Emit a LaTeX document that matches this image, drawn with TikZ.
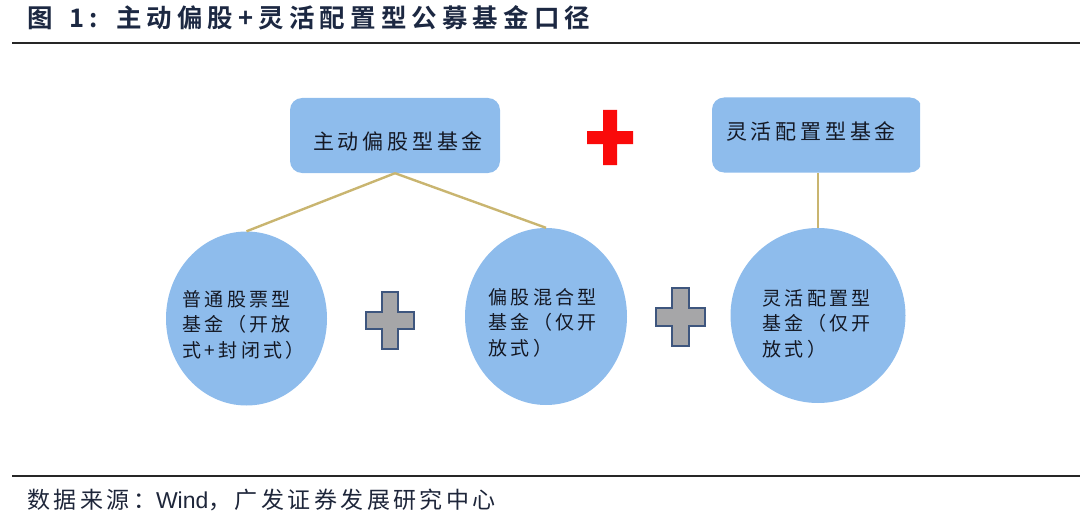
\documentclass[tikz,border=0pt]{standalone}
\usepackage{fontspec}
\usetikzlibrary{shapes.geometric}
\newfontfamily\cjk{Noto Sans CJK SC}
\newfontfamily\cjkls[LetterSpace=18]{Noto Sans CJK SC}
\newfontfamily\cjkft[LetterSpace=15]{Noto Sans CJK SC}
\newfontfamily\cjkt[LetterSpace=20]{Noto Sans CJK SC Bold}
\newfontfamily\latinft{Liberation Sans}
\definecolor{boxblue}{RGB}{142,188,236}
\definecolor{tanline}{RGB}{201,181,112}
\definecolor{titlenavy}{RGB}{28,40,66}
\definecolor{crossgrey}{RGB}{166,166,168}
\definecolor{crossedge}{RGB}{62,86,126}
\definecolor{crossred}{RGB}{250,10,10}
\definecolor{txt}{RGB}{20,24,36}
\definecolor{foottxt}{RGB}{30,38,58}
\newcommand\plusshape[7]{%
  \fill[#7] (#1-#3,#2-#4) -- (#1+#3,#2-#4) -- (#1+#3,#2-#6) -- (#1+#5,#2-#6) --
   (#1+#5,#2+#6) -- (#1+#3,#2+#6) -- (#1+#3,#2+#4) -- (#1-#3,#2+#4) --
   (#1-#3,#2+#6) -- (#1-#5,#2+#6) -- (#1-#5,#2-#6) -- (#1-#3,#2-#6) -- cycle;}
\tikzset{
  topbox/.style={draw=none,fill=boxblue,rounded corners=12pt,minimum width=210pt,minimum height=75pt,inner sep=0pt},
  boxtext/.style={anchor=center,inner sep=0pt,font=\cjkls\fontsize{21}{25}\selectfont,text=txt},
  bubble/.style={ellipse,draw=none,fill=boxblue,inner sep=0pt},
  bubtext/.style={anchor=north west,align=left,inner sep=0pt,font=\cjkls\fontsize{19}{25.5}\selectfont,text=txt},
  conn/.style={draw=tanline,line width=2.4pt},
  rulel/.style={draw=black!85,line width=2pt}
}
\begin{document}
\begin{tikzpicture}[x=1pt,y=-1pt]
\useasboundingbox (0,0) rectangle (1080,519);
% title
\node[anchor=west,inner sep=0pt,text=titlenavy,font=\cjkt\fontsize{25.5}{28}\selectfont] (title) at (27,18) {图\hspace{17pt}1:\hspace{18pt}主动偏股+灵活配置型公募基金口径};
\draw[rulel] (12,43) -- (1080,43);
% top boxes
\node[topbox] (b1) at (395,135.5) {};
\node[boxtext] (b1t) at (398,141) {主动偏股型基金};
\begin{scope}
\clip (700,90) rectangle (920,180);
\node[topbox] (b2) at (817,135) {};
\end{scope}
\node[boxtext] (b2t) at (811,131) {灵活配置型基金};
% circles
\node[bubble,minimum width=161pt,minimum height=174pt] (c1) at (246.5,318.5) {};
\node[bubble,minimum width=162pt,minimum height=177pt] (c2) at (546,316.5) {};
\node[bubble,minimum width=175pt,minimum height=175pt] (c3) at (818,315.5) {};
\node[bubtext] (t1) at (182,290) {普通股票型\\基金（开放\\式+封闭式）};
\node[bubtext] (t2) at (488,288) {偏股混合型\\基金（仅开\\放式）};
\node[bubtext] (t3) at (762,289) {灵活配置型\\基金（仅开\\放式）};
% connectors
\draw[conn] (b1.south) -- (c1.north);
\draw[conn] (b1.south) -- (c2.north);
\draw[conn] (818,173) -- (c3.north);
% crosses
\plusshape{610}{137.5}{7}{27.5}{23}{6.5}{crossred}
\plusshape{390}{320.5}{8}{28.5}{24}{8.5}{crossgrey,draw=crossedge,line width=2pt}
\plusshape{680.5}{317}{8.5}{29}{24.5}{9}{crossgrey,draw=crossedge,line width=2pt}
% footer
\draw[rulel] (12,476) -- (1080,476);
\node[anchor=west,inner sep=0pt,text=foottxt,font=\cjkft\fontsize{23}{27}\selectfont] (foot) at (27,500) {数据来源：{\latinft Wind}，广发证券发展研究中心};
\end{tikzpicture}
\end{document}
